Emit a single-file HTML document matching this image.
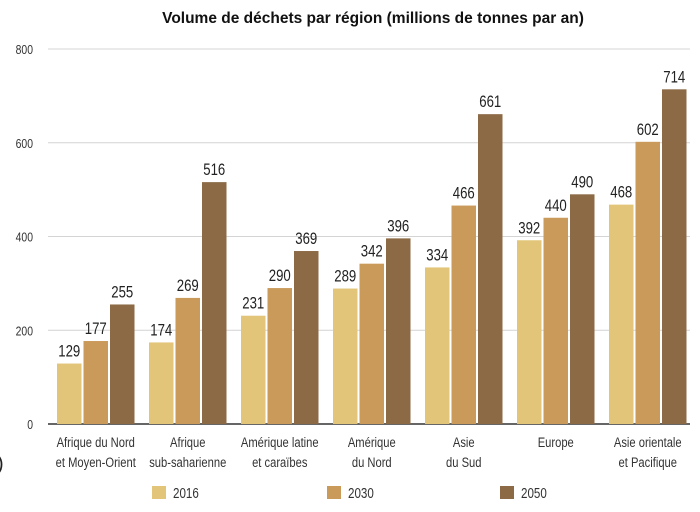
<!DOCTYPE html>
<html><head><meta charset="utf-8"><style>
body{margin:0;background:#fff;width:700px;height:507px;overflow:hidden}
svg{font-family:"Liberation Sans",sans-serif}
</style></head><body>
<svg id="chart" width="700" height="507" viewBox="0 0 700 507" xmlns="http://www.w3.org/2000/svg">
<text x="373" y="23" text-anchor="middle" font-weight="bold" font-size="15.5" fill="#111">Volume de déchets par région (millions de tonnes par an)</text>
<g id="grid"></g><g id="bars"></g><g id="labels"></g><g id="legend"></g>
<text x="-3" y="470" font-size="20" fill="#222">)</text>
</svg>
<script>
const categories=[["Afrique du Nord","et Moyen-Orient"],["Afrique","sub-saharienne"],["Amérique latine","et caraïbes"],["Amérique","du Nord"],["Asie","du Sud"],["Europe"],["Asie orientale","et Pacifique"]];
const seriesNames=["2016","2030","2050"];
const v2016=[129,174,231,289,334,392,468];
const v2030=[177,269,290,342,466,440,602];
const v2050=[255,516,369,396,661,490,714];
const yTicks=[0,200,400,600,800];
const colors=["#e2c579","#c99a5a","#8b6a45"];
const NS="http://www.w3.org/2000/svg";
const SX=0.8;
const y=v=>424-v*(375/800);
const x=(g,s)=>57+g*92+s*26.5;
function mk(t,a,p,txt){const e=document.createElementNS(NS,t);for(const k in a)e.setAttribute(k,a[k]);if(txt!==undefined)e.textContent=txt;p.appendChild(e);return e;}
function ntext(px,py,a,p,txt){a.x=0;a.y=0;a.transform='translate('+px+','+py+') scale('+SX+',1)';return mk('text',a,p,txt);}
const grid=document.getElementById('grid'),bars=document.getElementById('bars'),labels=document.getElementById('labels'),legend=document.getElementById('legend');
yTicks.forEach(t=>{
 const l=mk('line',{x1:48,x2:690,y1:y(t),y2:y(t),stroke:t===0?'#333':'#d4d4d4','stroke-width':t===0?1.5:1},grid);
 
 
 const tx=ntext(33,y(t)+5,{'text-anchor':'end','font-size':13,fill:'#333'},grid,t);
 
 
});
[v2016,v2030,v2050].forEach((arr,s)=>{
 arr.forEach((v,g)=>{
  const r=mk('rect',{x:x(g,s),y:y(v),width:24.5,height:y(0)-y(v),fill:colors[s]},bars);
  
  
  const t=ntext(x(g,s)+12.25,y(v)-7,{'text-anchor':'middle','font-size':16.5,fill:'#222'},labels,v);
  
  
 });
});
categories.forEach((c,g)=>{
 c.forEach((line,i)=>{
  const t=ntext(x(g,1)+12.25,447+i*20,{'text-anchor':'middle','font-size':14,fill:'#333'},labels,line);
  
  
 });
});
const lx=[152,327,500];
seriesNames.forEach((n,s)=>{
 const r=mk('rect',{x:lx[s],y:486,width:14,height:13,fill:colors[s]},legend);
 
 
 const t=ntext(lx[s]+21,498,{'font-size':14.5,fill:'#333'},legend,n);
 
 
});
</script>
</body></html>
